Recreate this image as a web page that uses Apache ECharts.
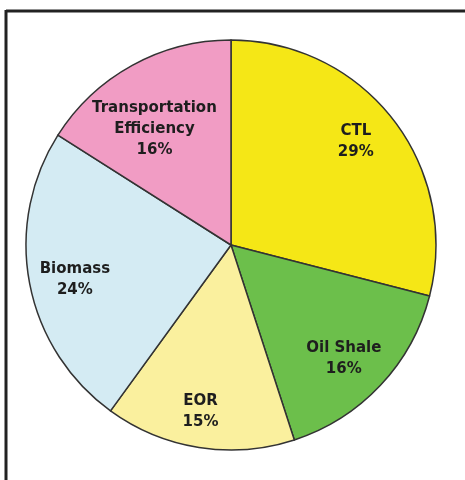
<!DOCTYPE html>
<html>
<head>
<meta charset="utf-8">
<title>Pie - fuel shares</title>
<script src="https://cdn.jsdelivr.net/npm/echarts@6/dist/echarts.min.js"></script>
<style>
    html, body { margin: 0; padding: 0; background: #fff; }
    #pie_shares { width: 465px; height: 480px; }
</style>
</head>
<body>
<div id="pie_shares"></div>
<script>

// Chart data
// ------------------------------

var categories = ['CTL', 'Oil Shale', 'EOR', 'Biomass', 'Transportation\nEfficiency'];
var shares = [29, 16, 15, 24, 16];
var sliceColors = ['#f5e716', '#6cbf4b', '#faf09e', '#d4ebf3', '#f19cc4'];


// Setup chart
// ------------------------------

var PieShares = function() {

    var _pieShares = function() {
        if (typeof echarts == 'undefined') {
            console.warn('Warning - echarts.min.js is not loaded.');
            return;
        }

        var pie_element = document.getElementById('pie_shares');
        if (!pie_element) return;

        var pie_chart = echarts.init(pie_element);

        // small nudges so labels sit like the original
        var labelOffsets = {
            'CTL': [-4, -3],
            'Oil Shale': [-6, 2],
            'EOR': [-5, 6],
            'Biomass': [4, 4],
            'Transportation\nEfficiency': [2, 27]
        };

        var sliceData = categories.map(function(name, i) {
            return {
                name: name,
                value: shares[i],
                itemStyle: { color: sliceColors[i] }
            };
        });

        var labelData = categories.map(function(name, i) {
            return {
                name: name,
                value: shares[i],
                label: { offset: labelOffsets[name] || [0, 0] }
            };
        });

        pie_chart.setOption({
            animation: false,
            backgroundColor: '#fff',

            // Frame lines (top and left only)
            graphic: [
                {
                    type: 'line',
                    shape: { x1: 6, y1: 11, x2: 465, y2: 11 },
                    style: { stroke: '#222', lineWidth: 3 }
                },
                {
                    type: 'line',
                    shape: { x1: 6, y1: 10, x2: 6, y2: 480 },
                    style: { stroke: '#222', lineWidth: 3 }
                }
            ],

            series: [
                // Visible slices
                {
                    type: 'pie',
                    center: [231, 245],
                    radius: [0, 205],
                    startAngle: 90,
                    clockwise: true,
                    silent: true,
                    label: { show: false },
                    labelLine: { show: false },
                    itemStyle: {
                        borderColor: '#333',
                        borderWidth: 1.5
                    },
                    data: sliceData
                },
                // Transparent ring carrying the labels
                {
                    type: 'pie',
                    center: [231, 245],
                    radius: [115, 205],
                    startAngle: 90,
                    clockwise: true,
                    silent: true,
                    z: 3,
                    itemStyle: {
                        color: 'rgba(0,0,0,0)',
                        borderWidth: 0
                    },
                    label: {
                        show: true,
                        position: 'inside',
                        formatter: '{b}\n{c}%',
                        fontFamily: 'DejaVu Sans',
                        fontWeight: 'bold',
                        fontSize: 15,
                        lineHeight: 21,
                        color: '#1e1e1e',
                        align: 'center'
                    },
                    labelLine: { show: false },
                    data: labelData
                }
            ]
        });
    };

    return {
        init: function() {
            _pieShares();
        }
    }
}();

document.addEventListener('DOMContentLoaded', function() {
    PieShares.init();
});
</script>
</body>
</html>
